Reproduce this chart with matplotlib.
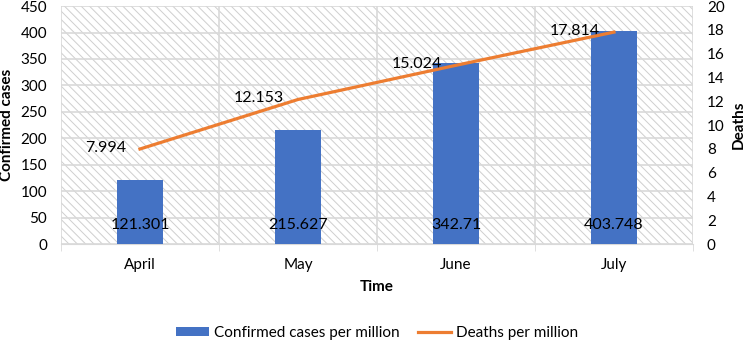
import numpy as np
import matplotlib.pyplot as plt
from matplotlib.patches import Rectangle

plt.rcParams['font.family'] = ['Lato', 'DejaVu Sans']
plt.rcParams['hatch.linewidth'] = 0.7

# ===== 데이터 =====
months = ['April', 'May', 'June', 'July']
cases = [121.301, 215.627, 342.71, 403.748]
deaths = [7.994, 12.153, 15.024, 17.814]
case_labels = ['121.301', '215.627', '342.71', '403.748']
death_labels = ['7.994', '12.153', '15.024', '17.814']

blue = '#4472C4'
orange = '#ED7D31'
grid_c = '#d9d9d9'

fig = plt.figure(figsize=(7.49, 3.58), dpi=100)
ax = fig.add_axes([0.0814, 0.318, 0.8438, 0.665])
ax2 = ax.twinx()

x = np.arange(len(months))

# 배경 해칭 (플롯 영역 전체)
ax.add_patch(Rectangle((0, 0), 1, 1, transform=ax.transAxes, facecolor='none',
                       edgecolor='#cfcfcf', lw=0, hatch='\\\\\\\\', zorder=0))

ax.bar(x, cases, width=0.29, color=blue, zorder=3, label='Confirmed cases per million')
for xi, lab in zip(x, case_labels):
    ax.annotate(lab, (xi, 0), xytext=(0, 14), textcoords='offset points',
                ha='center', va='center', fontsize=11.5, zorder=5)

ax.set_xlim(-0.5, 3.5)
ax.set_ylim(0, 450)
ax.set_yticks(np.arange(0, 451, 50))
ax.set_xticks(x)
ax.set_xticklabels(months, fontsize=11)
ax.set_xticks(np.arange(-0.5, 3.6, 1), minor=True)
ax.tick_params(axis='x', which='major', length=0, pad=10)
ax.tick_params(axis='x', which='minor', length=5, color=grid_c)
ax.tick_params(axis='y', length=0, labelsize=11, pad=10)
ax.grid(axis='y', color=grid_c, lw=1.2, zorder=1)
ax.grid(axis='x', which='minor', color=grid_c, lw=1.2, zorder=1)
ax.set_axisbelow(True)
for s in ['top', 'left', 'right']:
    ax.spines[s].set_visible(False)
ax.spines['bottom'].set_color(grid_c)
ax.set_ylabel('Confirmed cases', fontsize=11, fontweight='bold', labelpad=5)
ax.set_xlabel('Time', fontsize=11, fontweight='bold', labelpad=6)

ax2.plot(x, deaths, color=orange, lw=2.3, zorder=4, label='Deaths per million')
for xi, yi, lab in zip(x, deaths, death_labels):
    ax2.annotate(lab, (xi, yi), xytext=(-10, 1), textcoords='offset points',
                 ha='right', va='center', fontsize=11.5)
ax2.set_ylim(0, 20)
ax2.set_yticks(np.arange(0, 21, 2))
ax2.tick_params(axis='y', length=0, labelsize=11, pad=10)
for s in ax2.spines.values():
    s.set_visible(False)
ax2.set_ylabel('Deaths', fontsize=11, fontweight='bold', labelpad=5)

h1, l1 = ax.get_legend_handles_labels()
h2, l2 = ax2.get_legend_handles_labels()
fig.legend(h1 + h2, l1 + l2, loc='center', bbox_to_anchor=(0.503, 0.07), ncol=2,
           frameon=False, fontsize=11, handlelength=2.2, handleheight=0.6,
           columnspacing=1.2, handletextpad=0.3)

fig.savefig('out.png', dpi=100)
